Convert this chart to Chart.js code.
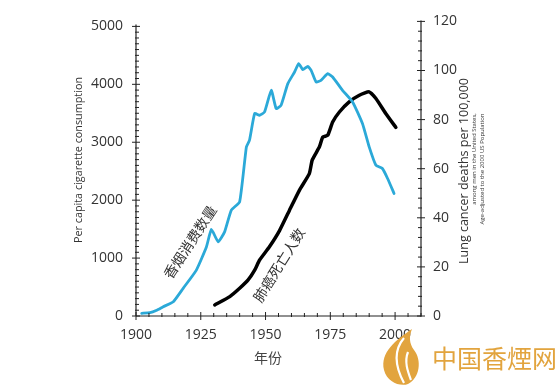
<!DOCTYPE html>
<html><head><meta charset="utf-8">
<script src="https://cdn.jsdelivr.net/npm/chart.js@4.4.1/dist/chart.umd.min.js"></script>
<style>html,body{margin:0;padding:0;background:#fff}#wrap{width:560px;height:388px;position:relative}</style>
</head><body><div id="wrap"><canvas id="c" width="560" height="388"></canvas></div>
<script>
// ---- data ----
const consumptionYears = [1902.2,1905.4,1908,1910.5,1914.4,1918.2,1923.3,1927.2,1929.1,1931.7,1934.2,1936.8,1940,1942.6,1943.8,1945.8,1947.7,1949.6,1952.2,1954.1,1956,1958.6,1961.2,1962.8,1964.4,1966.3,1967.6,1969.5,1971.4,1974,1975.9,1979.7,1983.6,1987.4,1990,1992.6,1995.1,1997.1,1999.6];
const consumption = [47,57,100,160,247,478,793,1195,1495,1281,1453,1828,1971,2919,3034,3495,3466,3522,3897,3581,3638,4012,4212,4357,4253,4310,4241,4040,4069,4184,4126,3897,3695,3322,2919,2603,2546,2374,2116];
const deathYears = [1930.4,1936.2,1940,1943.2,1945.8,1947.7,1951.5,1955.4,1959.2,1963.1,1966.9,1968,1970.8,1972.1,1974,1975.9,1978.5,1982.3,1986.2,1990,1992.6,1996.4,2000.3];
const deaths = [4.5,7.9,11.3,14.6,18.7,22.8,28.2,34.8,43,51.3,58,63.5,68.9,72.9,73.6,79,83.1,87.2,89.9,91.3,88.6,82.5,76.8];
const xTickLabels = [1900,1925,1950,1975,2000];
const leftTickLabels = [0,1000,2000,3000,4000,5000];
const rightTickLabels = [0,20,40,60,80,100,120];

const TICKFONT = {family:"'Open Sans',sans-serif", size:14};
const TICKCOLOR = '#333';

function line(ctx,x1,y1,x2,y2){ctx.beginPath();ctx.moveTo(x1,y1);ctx.lineTo(x2,y2);ctx.stroke();}

const deco = {
  id:'deco',
  afterDraw(chart){
    const {ctx, chartArea:a, scales} = chart;
    const x = scales.x, y = scales.y, y1 = scales.y1;
    ctx.save();
    ctx.strokeStyle = '#222'; ctx.lineWidth = 1.2;
    const yb = y.getPixelForValue(0);
    line(ctx, a.left, yb, a.right, yb);
    line(ctx, a.left, yb, a.left, y.getPixelForValue(5000)-2);
    line(ctx, a.right, y1.getPixelForValue(0), a.right, y1.getPixelForValue(120)-1);
    ctx.lineWidth = 1;
    for (let v=1900; v<=2010; v+=5){
      const px = x.getPixelForValue(v);
      if (v%25===0) line(ctx, px, yb-4, px, yb+4); else line(ctx, px, yb-3, px, yb+1);
    }
    for (let v=0; v<=5000; v+=100){
      const py = y.getPixelForValue(v);
      if (v%1000===0) line(ctx, a.left-4, py, a.left+4, py); else line(ctx, a.left-1, py, a.left+3, py);
    }
    for (let v=0; v<=120; v+=4){
      const py = y1.getPixelForValue(v);
      if (v%20===0) line(ctx, a.right-4, py, a.right+4, py); else line(ctx, a.right-3, py, a.right+1, py);
    }
    // axis titles
    ctx.fillStyle = '#333';
    ctx.textAlign = 'center'; ctx.textBaseline = 'middle';
    ctx.save(); ctx.translate(79,160); ctx.rotate(-Math.PI/2);
    ctx.font = "10.8px 'Open Sans', sans-serif";
    ctx.fillText('Per capita cigarette consumption',0,0); ctx.restore();
    ctx.save(); ctx.translate(464,171); ctx.rotate(-Math.PI/2);
    ctx.font = "12.5px 'Open Sans', sans-serif";
    ctx.fillText('Lung cancer deaths per 100,000',0,0); ctx.restore();
    ctx.save(); ctx.translate(474,159); ctx.rotate(-Math.PI/2);
    ctx.font = "6px 'Open Sans', sans-serif";
    ctx.fillText('among men in the United States,',0,0); ctx.restore();
    ctx.save(); ctx.translate(482,169); ctx.rotate(-Math.PI/2);
    ctx.font = "6px 'Open Sans', sans-serif";
    ctx.fillText('Age-adjusted to the 2000 US Population',0,0); ctx.restore();
    ctx.font = "14px 'Noto Sans CJK SC', sans-serif";
    ctx.fillStyle = '#444';
    ctx.fillText('年份', 268, 358);
    // series annotations
    ctx.fillStyle = '#333';
    ctx.save(); ctx.translate(190,242); ctx.rotate(-57*Math.PI/180);
    ctx.font = "14px 'Noto Sans CJK SC', sans-serif";
    ctx.fillText('香烟消费数量',0,0); ctx.restore();
    ctx.save(); ctx.translate(279,265); ctx.rotate(-58*Math.PI/180);
    ctx.font = "14px 'Noto Sans CJK SC', sans-serif";
    ctx.fillText('肺癌死亡人数',0,0); ctx.restore();
    // watermark
    const orange = '#E2A43E';
    ctx.fillStyle = orange;
    ctx.beginPath();
    ctx.moveTo(412,329);
    ctx.bezierCurveTo(396,340,380,352,384,370);
    ctx.bezierCurveTo(387,382,400,387,408,384);
    ctx.bezierCurveTo(420,378,422,360,414,350);
    ctx.bezierCurveTo(409,343,409,336,412,329);
    ctx.fill();
    ctx.strokeStyle = '#fff'; ctx.lineWidth = 2.2;
    ctx.beginPath(); ctx.moveTo(404,338); ctx.bezierCurveTo(392,352,396,368,404,383); ctx.stroke();
    ctx.beginPath(); ctx.moveTo(408,352); ctx.bezierCurveTo(404,362,408,372,411,380); ctx.stroke();
    ctx.fillStyle = orange;
    ctx.font = "25px 'Noto Sans CJK SC', sans-serif";
    ctx.textAlign = 'left';
    ctx.fillText('中国香煙网', 432, 358);
    ctx.restore();
  }
};

new Chart(document.getElementById('c'), {
  type:'line',
  data:{
    datasets:[
      {label:'香烟消费数量', data: consumptionYears.map((v,i)=>({x:v,y:consumption[i]})), yAxisID:'y',
       borderColor:'#2BA9D8', borderWidth:2.8, pointRadius:0, tension:0.15, fill:false, borderJoinStyle:'round', borderCapStyle:'round'},
      {label:'肺癌死亡人数', data: deathYears.map((v,i)=>({x:v,y:deaths[i]})), yAxisID:'y1',
       borderColor:'#000', borderWidth:3.5, pointRadius:0, tension:0.15, fill:false, borderJoinStyle:'round', borderCapStyle:'round'}
    ]
  },
  options:{
    responsive:false, animation:false, devicePixelRatio:1,
    layout:{padding:{top:21,left:0,right:0,bottom:0}},
    plugins:{legend:{display:false}, tooltip:{enabled:false}},
    scales:{
      x:{type:'linear', min:1900, max:2010,
         afterBuildTicks:s=>{s.ticks = xTickLabels.map(v=>({value:v}));},
         afterFit:s=>{s.height = 72;},
         grid:{display:false, drawTicks:false}, border:{display:false},
         ticks:{font:TICKFONT, color:TICKCOLOR, padding:11, maxRotation:0, autoSkip:false, callback:v=>String(v)}},
      y:{type:'linear', position:'left', min:0, max:5086.2,
         afterBuildTicks:s=>{s.ticks = leftTickLabels.map(v=>({value:v}));},
         afterFit:s=>{s.width = 136;},
         grid:{display:false, drawTicks:false}, border:{display:false},
         ticks:{font:TICKFONT, color:TICKCOLOR, padding:13, callback:v=>String(v)}},
      y1:{type:'linear', position:'right', min:0, max:120,
         afterBuildTicks:s=>{s.ticks = rightTickLabels.map(v=>({value:v}));},
         afterFit:s=>{s.width = 139;},
         grid:{display:false, drawTicks:false}, border:{display:false},
         ticks:{font:TICKFONT, color:TICKCOLOR, padding:12, callback:v=>String(v)}}
    }
  },
  plugins:[deco]
});
</script></body></html>
